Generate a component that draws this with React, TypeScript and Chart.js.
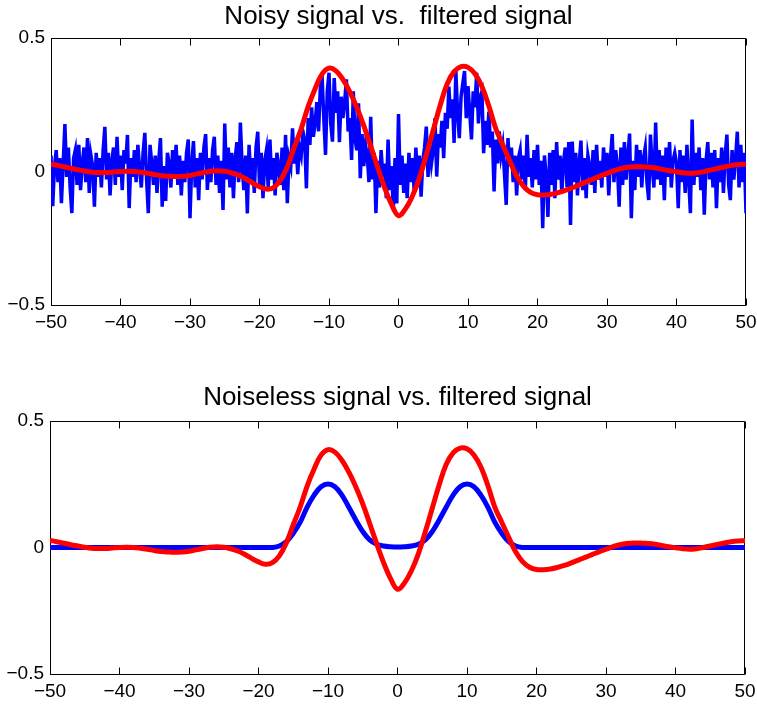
import React, { useEffect, useRef } from "react";
import { Chart, registerables } from "chart.js";

Chart.register(...registerables);

const FONT = "'Liberation Sans', Arial, Helvetica, sans-serif";

// ---- tick labels ----
const xTickValues = [-50, -40, -30, -20, -10, 0, 10, 20, 30, 40, 50];
const xTickLabels = ["\u221250", "\u221240", "\u221230", "\u221220", "\u221210", "0", "10", "20", "30", "40", "50"];
const yTickValues = [-0.5, 0, 0.5];
const yTickLabels = ["\u22120.5", "0", "0.5"];

const titles = ["Noisy signal vs.  filtered signal", "Noiseless signal vs. filtered signal"];

// ---- series ----
// noisy signal sampled every 0.25 from -50
const noisyStart = -50;
const noisyStep = 0.25;
const noisySignal = [
  0.06, -0.13, 0.02, 0.08,
  -0.04, 0.05, -0.119, 0.03,
  0.178, -0.02, 0.09, -0.06,
  -0.156, 0.05, 0.08, -0.05,
  0.1, -0.07, 0.03, 0.09,
  -0.04, 0.125, -0.08, 0.06,
  0.02, -0.132, 0.07, -0.02,
  0.05, -0.06, 0.08, 0.167,
  -0.03, 0.07, -0.09, 0.04,
  0.09, -0.05, 0.13, -0.02,
  0.06, -0.07, 0.08, 0.03,
  0.137, -0.137, 0.05, -0.02,
  0.08, -0.04, 0.1, 0.01,
  -0.06, 0.07, 0.145, -0.03,
  -0.156, 0.1, 0.03, -0.05,
  0.06, -0.08, 0.04, 0.125,
  -0.132, 0.02, -0.11, 0.07,
  0.03, -0.06, 0.08, -0.02,
  0.1, -0.05, 0.06, -0.09,
  0.04, -0.04, 0.07, 0.12,
  -0.175, 0.03, 0.114, -0.06,
  0.05, -0.107, 0.07, -0.03,
  0.09, 0.14, -0.069, 0.05,
  -0.04, 0.08, 0.13, -0.05,
  0.06, -0.08, 0.04, -0.144,
  0.18, -0.03, 0.09, -0.06,
  0.07, -0.1, 0.05, 0.11,
  -0.04, 0.183, 0.02, -0.07,
  0.06, -0.157, 0.1, -0.03,
  0.05, -0.08, 0.09, 0.149,
  -0.05, 0.07, -0.1, 0.04,
  0.08, -0.06, 0.12, -0.03,
  0.05, -0.09, 0.07, 0.02,
  -0.05, 0.09, -0.07, 0.137,
  -0.119, 0.05, 0.02, 0.162,
  0.03, 0.11, -0.01, 0.09,
  0.06, 0.15, 0.12, -0.063,
  0.2, 0.1, 0.24, 0.13,
  0.18, 0.26, 0.15, 0.31,
  0.36, 0.2, 0.062, 0.3,
  0.37, 0.18, 0.112, 0.35,
  0.22, 0.3, 0.11, 0.28,
  0.2, 0.26, 0.345, 0.15,
  0.2, 0.043, 0.3, 0.12,
  0.08, 0.255, -0.025, 0.14,
  0.02, 0.1, 0.06, -0.04,
  0.205, -0.03, 0.07, -0.156,
  0.04, -0.06, 0.08, -0.02,
  0.03, -0.1, 0.12, -0.07,
  0.02, -0.144, 0.05, -0.12,
  0.215, -0.05, 0.06, -0.08,
  0.03, -0.1, 0.07, -0.04,
  0.05, -0.07, 0.09, -0.03,
  0.06, -0.094, 0.04, 0.09,
  0.168, -0.02, 0.1, 0.03,
  0.08, 0.2, -0.019, 0.14,
  0.09, 0.19, 0.05, 0.22,
  0.16, 0.318, 0.2, 0.27,
  0.107, 0.376, 0.22, 0.125,
  0.28, 0.33, 0.376, 0.2,
  0.32, 0.22, 0.12, 0.3,
  0.24, 0.37, 0.18, 0.28,
  0.3, 0.069, 0.19, 0.1,
  0.224, 0.09, 0.15, -0.075,
  0.12, 0.03, 0.15, 0.06,
  0.1, -0.01, -0.125, 0.125,
  0.02, 0.09, -0.04, 0.06,
  -0.09, 0.05, 0.08, -0.03,
  0.06, -0.07, 0.137, -0.02,
  0.05, -0.06, 0.08, -0.03,
  0.1, -0.05, 0.04, -0.212,
  0.06, -0.02, -0.17, 0.07,
  -0.05, 0.08, -0.1, 0.11,
  -0.03, 0.06, -0.08, 0.04,
  0.09, -0.06, 0.11, -0.2,
  0.112, -0.04, 0.07, -0.09,
  0.03, 0.116, -0.07, 0.05,
  -0.1, 0.06, 0.02, -0.05,
  0.08, -0.08, 0.1, -0.03,
  0.04, -0.06, 0.09, -0.02,
  0.07, -0.09, 0.05, 0.14,
  -0.04, 0.08, 0.02, -0.132,
  0.09, -0.05, 0.11, -0.03,
  0.06, 0.142, -0.175, 0.04,
  -0.07, 0.1, -0.02, 0.08,
  -0.06, 0.05, 0.09, -0.04,
  -0.107, 0.138, 0.02, -0.06,
  0.183, -0.03, 0.08, -0.05,
  0.06, -0.107, 0.09, -0.02,
  0.11, -0.06, 0.04, 0.07,
  0.03, -0.137, 0.08, -0.04,
  0.06, -0.08, 0.1, -0.03,
  -0.156, 0.195, -0.05, 0.07,
  -0.02, 0.09, -0.07, 0.05,
  -0.162, 0.04, 0.11, -0.03,
  0.07, -0.06, 0.08, -0.137,
  0.05, -0.04, 0.09, -0.08,
  0.06, 0.138, -0.05, -0.107,
  0.08, -0.03, 0.05, 0.149,
  -0.06, 0.1, -0.04, 0.07,
  -0.156,
];

// smooth series sampled every 1 from -50
const smoothStart = -50;
const smoothStep = 1;
const noiselessSignal = [
  0, 0, 0, 0, 0, 0, 0, 0, 0, 0,
  0, 0, 0, 0, 0, 0, 0, 0, 0, 0,
  0, 0, 0, 0, 0, 0, 0, 0, 0, 0,
  0, 0, 0,
  0.006, 0.023, 0.056, 0.1, 0.16, 0.207, 0.24, 0.251, 0.24, 0.207,
  0.159, 0.109, 0.063, 0.03, 0.013, 0.006, 0.003, 0.002, 0.003, 0.006,
  0.013, 0.03, 0.063, 0.109, 0.159, 0.207, 0.24, 0.251, 0.24, 0.207,
  0.16, 0.1, 0.056, 0.023, 0.006,
  0, 0, 0,
  0, 0, 0, 0, 0, 0, 0, 0, 0, 0,
  0, 0, 0, 0, 0, 0, 0, 0, 0, 0,
  0, 0, 0, 0, 0, 0, 0, 0, 0, 0,
];
const filteredSignal = [
  0.028, 0.023, 0.017, 0.011, 0.006, 0.001, -0.003, -0.004, -0.004, -0.002,
  0.0, 0.001, 0.0, -0.003, -0.007, -0.012, -0.016, -0.018, -0.019, -0.018,
  -0.015, -0.009, -0.004, 0.001, 0.003, 0.001, -0.005, -0.014, -0.027, -0.043,
  -0.057, -0.066, -0.06, -0.033, 0.018, 0.09, 0.16, 0.243, 0.31, 0.365,
  0.387, 0.377, 0.345, 0.298, 0.24, 0.172, 0.095, 0.015, -0.06, -0.123,
  -0.165, -0.14, -0.092, -0.025, 0.062, 0.155, 0.248, 0.328, 0.374, 0.393,
  0.39, 0.366, 0.318, 0.245, 0.16, 0.1, 0.04, -0.017, -0.056, -0.078,
  -0.087, -0.088, -0.085, -0.079, -0.071, -0.061, -0.05, -0.039, -0.028, -0.017,
  -0.007, 0.003, 0.011, 0.016, 0.018, 0.018, 0.016, 0.013, 0.008, 0.003,
  -0.001, -0.005, -0.007, -0.005, 0.0, 0.006, 0.012, 0.018, 0.023, 0.026,
  0.027,
];

const BLUE = "#0000ff";
const RED = "#ff0000";

function toPoints(values: number[], start: number, step: number) {
  return values.map((y, i) => ({ x: start + i * step, y }));
}

const framePlugin = {
  id: "frame",
  beforeDatasetsDraw(chart: any) {
    const { ctx, chartArea: a, scales } = chart;
    const L = Math.floor(a.left) + 0.5;
    const R = Math.ceil(a.right) - 0.5;
    const T = Math.floor(a.top) + 0.5;
    const B = Math.floor(a.bottom) + 0.5;
    const len = 7;
    ctx.save();
    ctx.strokeStyle = "#000";
    ctx.lineWidth = 1;
    ctx.beginPath();
    ctx.rect(L, T, R - L, B - T);
    xTickValues.forEach((v) => {
      const px = Math.floor(scales.x.getPixelForValue(v)) + 0.5;
      ctx.moveTo(px, B);
      ctx.lineTo(px, B - len);
      ctx.moveTo(px, T);
      ctx.lineTo(px, T + len);
    });
    yTickValues.forEach((v) => {
      const py = Math.floor(scales.y.getPixelForValue(v)) + 0.5;
      ctx.moveTo(L, py);
      ctx.lineTo(L + len, py);
      ctx.moveTo(R, py);
      ctx.lineTo(R - len, py);
    });
    ctx.stroke();
    ctx.restore();
  },
};

const titlePlugin = {
  id: "subTitle",
  afterDraw(chart: any, _args: any, opts: any) {
    const { ctx, chartArea: a } = chart;
    ctx.save();
    ctx.font = `26px ${FONT}`;
    ctx.fillStyle = "#000";
    ctx.textAlign = "center";
    ctx.textBaseline = "alphabetic";
    ctx.fillText(opts.text, (a.left + a.right) / 2, opts.baseline);
    ctx.restore();
  },
};

function makeConfig(
  datasets: any[],
  title: string,
  baseline: number,
  padTop: number,
  padRight: number,
  yWidth: number,
  xHeight: number
): any {
  return {
    type: "line",
    data: { datasets },
    plugins: [framePlugin, titlePlugin],
    options: {
      animation: false,
      responsive: false,
      maintainAspectRatio: false,
      devicePixelRatio: 1,
      events: [],
      layout: { padding: { top: padTop, right: padRight, left: 0, bottom: 0 } },
      plugins: {
        legend: { display: false },
        tooltip: { enabled: false },
        title: { display: false },
        subTitle: { text: title, baseline },
      },
      elements: { point: { radius: 0 } },
      scales: {
        x: {
          type: "linear",
          min: -50,
          max: 50,
          afterBuildTicks: (s: any) => {
            s.ticks = xTickValues.map((v) => ({ value: v }));
          },
          afterFit: (s: any) => {
            s.height = xHeight;
            s.paddingLeft = 0;
            s.paddingRight = 0;
          },
          grid: { display: false, drawTicks: false },
          border: { display: false },
          ticks: {
            autoSkip: false,
            maxRotation: 0,
            minRotation: 0,
            padding: 6,
            color: "#000",
            font: { family: FONT, size: 19 },
            callback: (v: number) => xTickLabels[xTickValues.indexOf(v)],
          },
        },
        y: {
          type: "linear",
          min: -0.5,
          max: 0.5,
          afterBuildTicks: (s: any) => {
            s.ticks = yTickValues.map((v) => ({ value: v }));
          },
          afterFit: (s: any) => {
            s.width = yWidth;
            s.paddingTop = 0;
            s.paddingBottom = 0;
          },
          grid: { display: false, drawTicks: false },
          border: { display: false },
          ticks: {
            autoSkip: false,
            padding: 6,
            color: "#000",
            font: { family: FONT, size: 19 },
            callback: (v: number) => yTickLabels[yTickValues.indexOf(v)],
          },
        },
      },
    },
  };
}

export default function App() {
  const topRef = useRef<HTMLCanvasElement | null>(null);
  const botRef = useRef<HTMLCanvasElement | null>(null);

  useEffect(() => {
    const smoothLine = (values: number[], color: string) => ({
      data: toPoints(values, smoothStart, smoothStep),
      borderColor: color,
      borderWidth: 5,
      tension: 0.4,
      pointRadius: 0,
      fill: false,
    });
    const topChart = new Chart(
      topRef.current as HTMLCanvasElement,
      makeConfig(
        [
          smoothLine(filteredSignal, RED),
          {
            data: toPoints(noisySignal, noisyStart, noisyStep),
            borderColor: BLUE,
            borderWidth: 3.5,
            tension: 0,
            pointRadius: 0,
            fill: false,
          },
        ],
        titles[0],
        23.5,
        38,
        11,
        51,
        47
      )
    );
    const botChart = new Chart(
      botRef.current as HTMLCanvasElement,
      makeConfig(
        [smoothLine(filteredSignal, RED), smoothLine(noiselessSignal, BLUE)],
        titles[1],
        53,
        69,
        12,
        50,
        31
      )
    );
    return () => {
      topChart.destroy();
      botChart.destroy();
    };
  }, []);

  return (
    <div
      style={{
        position: "absolute",
        left: 0,
        top: 0,
        width: 757,
        height: 705,
        background: "#fff",
        overflow: "hidden",
      }}
    >
      <canvas
        ref={topRef}
        width={757}
        height={352}
        style={{ position: "absolute", left: 0, top: 0, width: 757, height: 352 }}
      />
      <canvas
        ref={botRef}
        width={757}
        height={353}
        style={{ position: "absolute", left: 0, top: 352, width: 757, height: 353 }}
      />
    </div>
  );
}
